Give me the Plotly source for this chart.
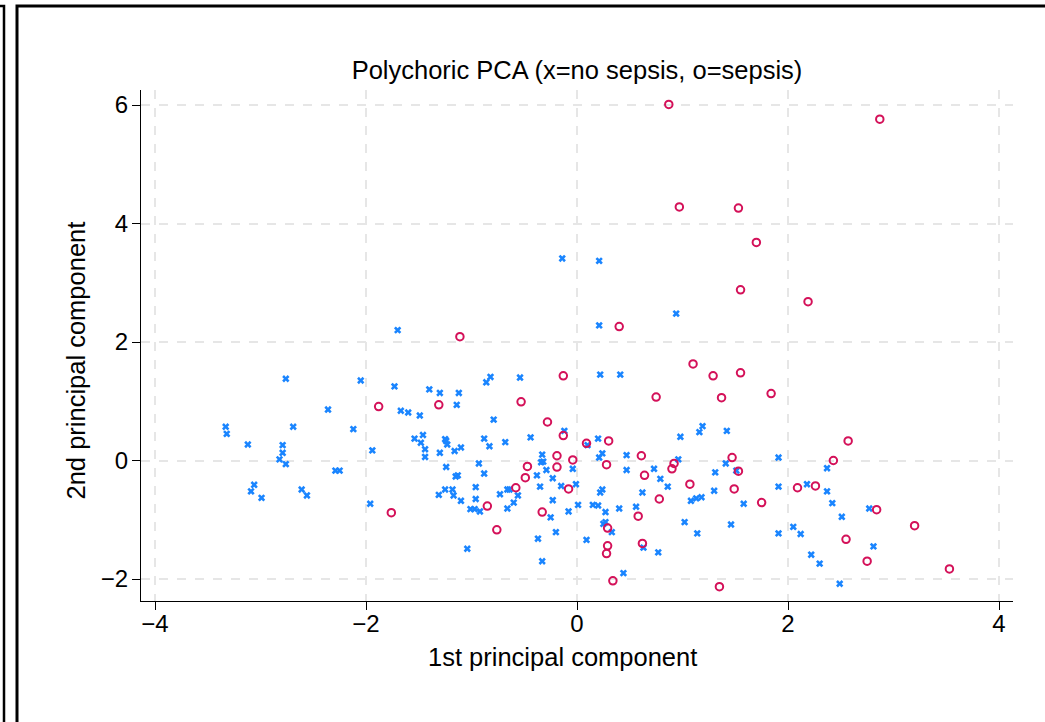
import plotly.graph_objects as go

# Sepsis (o) – 1st and 2nd principal component scores
sepsis_pc1 = [0.87, 2.87, 0.97, 1.53, 1.70, 1.55, 2.19, 0.40, -1.11, 1.10,
              1.29, 1.55, -0.13, 0.75, 1.37, 1.84, -0.53, -1.88, -1.31, -0.28,
              -0.13, 2.57, 0.09, 0.30, 2.43, 0.61, -0.19, -0.04, 0.92, 0.28,
              -0.47, -0.19, 1.47, 0.90, 1.53, 0.64, -0.49, 1.07, 2.09, 2.26,
              -0.58, -0.08, 1.49, 0.78, 1.75, -0.85, 2.84, -0.33, -1.76, 0.58,
              3.20, 0.29, -0.76, 2.55, 0.62, 0.29, 0.28, 2.75, 3.53, 0.34, 1.35]
sepsis_pc2 = [6.01, 5.76, 4.28, 4.26, 3.68, 2.88, 2.68, 2.26, 2.09, 1.63,
              1.43, 1.48, 1.43, 1.07, 1.06, 1.13, 0.99, 0.91, 0.94, 0.65,
              0.42, 0.33, 0.29, 0.33, 0.00, 0.08, 0.08, 0.01, -0.05, -0.07,
              -0.10, -0.11, 0.05, -0.14, -0.18, -0.25, -0.29, -0.40, -0.46, -0.43,
              -0.46, -0.48, -0.48, -0.65, -0.71, -0.77, -0.83, -0.87, -0.88, -0.94,
              -1.10, -1.14, -1.17, -1.33, -1.40, -1.44, -1.57, -1.70, -1.83, -2.03, -2.13]

# No sepsis (x)
nosepsis_pc1 = [-1.70, -2.76, -2.05, -1.73, -1.40, -1.30, -2.36, -1.67, -1.60, -1.49,
                -3.33, -3.32, -2.69, -2.12, -3.12, -2.79, -1.54, -1.46, -1.48, -1.44,
                -1.44, -1.30, -1.94, -2.79, -2.82, -2.76, -2.29, -2.25, -3.06, -3.09,
                -2.99, -2.61, -2.56, -1.96, -1.31, -1.12, -1.14, -0.82, -0.86, -0.54,
                -0.79, -1.25, -1.24, -1.23, -1.10, -1.16, -0.88, -0.83, -0.68, -0.44,
                -0.12, -1.24, -0.93, -0.88, -1.15, -1.13, -0.33, -0.34, -0.32, -0.29,
                -0.23, -0.35, -0.15, -0.04, -0.01, 0.22, 0.41, 0.20, 0.10, 0.24,
                0.21, 0.47, 0.47, -1.25, -1.18, -1.17, -1.10, -0.96, -0.96, -0.73,
                -0.66, -0.64, -0.56, -0.60, -0.23, -0.66, 0.01, 0.15, 0.20, 0.22,
                0.24, 0.40, -0.38, -1.01, -0.97, -0.92, -0.08, -0.25, -0.20, -0.37,
                -0.33, -1.04, 0.27, 0.25, 0.27, 0.33, 0.09, 0.44, 1.19, 1.16,
                1.42, 0.98, 0.96, 1.41, 0.73, 1.31, 0.79, 1.51, 0.86, 0.62,
                1.30, 1.91, 1.91, 1.58, 1.18, 1.13, 1.08, 0.56, 1.02, 1.14,
                1.46, 1.91, 0.63, 0.77, 2.05, 2.12, 2.22, 2.30, 2.37, 2.37,
                2.42, 2.18, 2.49, 2.51, 2.77, 2.81, -0.14, 0.21, 0.94, 0.21]
nosepsis_pc2 = [2.20, 1.38, 1.35, 1.25, 1.20, 1.14, 0.86, 0.84, 0.81, 0.76,
                0.57, 0.45, 0.57, 0.53, 0.27, 0.26, 0.37, 0.43, 0.30, 0.19,
                0.06, 0.13, 0.17, 0.13, 0.02, -0.06, -0.17, -0.17, -0.41, -0.52,
                -0.63, -0.49, -0.59, -0.73, -0.58, 1.14, 0.94, 1.41, 1.32, 1.40,
                0.69, 0.36, 0.33, 0.27, 0.22, 0.16, 0.37, 0.24, 0.31, 0.39,
                0.50, -0.11, -0.05, -0.22, -0.27, -0.25, 0.10, -0.03, -0.02, -0.16,
                -0.30, -0.44, -0.43, -0.14, -0.40, 1.45, 1.45, 0.37, 0.26, 0.12,
                0.05, 0.09, -0.16, -0.49, -0.49, -0.59, -0.68, -0.45, -0.65, -0.57,
                -0.49, -0.49, -0.59, -0.71, -0.67, -0.81, -0.75, -0.75, -0.76, -0.54,
                -0.49, -0.81, -0.25, -0.82, -0.82, -0.86, -0.86, -0.96, -1.21, -1.32,
                -1.70, -1.49, -0.87, -1.07, -1.04, -1.21, -1.34, -1.90, 0.58, 0.48,
                0.50, 0.40, 0.02, -0.05, -0.14, -0.20, -0.31, -0.17, -0.44, -0.54,
                -0.51, 0.05, -0.44, -0.73, -0.62, -0.64, -0.68, -0.78, -1.04, -1.23,
                -1.08, -1.23, -1.47, -1.55, -1.12, -1.24, -1.59, -1.74, -0.13, -0.52,
                -0.72, -0.40, -2.08, -0.95, -0.81, -1.45, 3.41, 3.37, 2.48, 2.28]

x_ticks = [-4, -2, 0, 2, 4]
y_ticks = [-2, 0, 2, 4, 6]

BLUE = "#1a85ff"
RED = "#d41159"
FONT = "Liberation Sans, Arial, sans-serif"

fig = go.Figure()
fig.add_trace(go.Scatter(
    x=nosepsis_pc1, y=nosepsis_pc2, mode="markers", name="no sepsis",
    marker=dict(symbol="x", size=6.5, color=BLUE, line=dict(width=0)),
    cliponaxis=False))
fig.add_trace(go.Scatter(
    x=sepsis_pc1, y=sepsis_pc2, mode="markers", name="sepsis",
    marker=dict(symbol="circle-open", size=7.5, color=RED, line=dict(width=2, color=RED)),
    cliponaxis=False))

W, H = 1045, 722
L, R, T, B = 141, 1013, 90, 601


def px(xp):
    return (xp - L) / (R - L)


def py(yp):
    return (B - yp) / (B - T)


shapes = [
    dict(type="path", xref="paper", yref="paper",
         path=f"M {px(17)} {py(730)} L {px(17)} {py(6)} L {px(1050)} {py(6)}",
         line=dict(color="black", width=3)),
    dict(type="path", xref="paper", yref="paper",
         path=f"M {px(4)} {py(730)} L {px(4)} {py(6)} L {px(-5)} {py(6)}",
         line=dict(color="black", width=2.5)),
]

annotations = [
    dict(text="1st principal component", xref="paper", yref="paper",
         x=px(562.5), y=py(657), xanchor="center", yanchor="middle", showarrow=False,
         font=dict(size=25.5, color="black", family=FONT)),
    dict(text="2nd principal component", xref="paper", yref="paper",
         x=px(75), y=py(360.5), xanchor="center", yanchor="middle", showarrow=False,
         textangle=-90, font=dict(size=25.5, color="black", family=FONT)),
]

axis_common = dict(
    showline=True, linecolor="black", linewidth=1.3,
    ticks="outside", ticklen=8, tickwidth=1.3, tickcolor="black",
    showgrid=True, gridcolor="#e6e6e6", gridwidth=1.5, griddash="dash",
    zeroline=False, tickfont=dict(size=24, color="black", family=FONT),
    mirror=False,
)

fig.update_layout(
    width=W, height=H,
    margin=dict(l=L, r=W - R, t=T, b=H - B, pad=0),
    paper_bgcolor="white", plot_bgcolor="white",
    showlegend=False,
    font=dict(family=FONT, color="black"),
    title=dict(text="Polychoric PCA (x=no sepsis, o=sepsis)",
               x=577 / W, xanchor="center", y=1 - 70 / H, yanchor="middle",
               font=dict(size=25.5, color="black", family=FONT)),
    xaxis=dict(range=[(L - 577) / 105.5, (R - 577) / 105.5], tickvals=x_ticks,
               ticklabelstandoff=-7, **axis_common),
    yaxis=dict(range=[(460.5 - B) / 59.25, (460.5 - T) / 59.25], tickvals=y_ticks,
               ticklabelstandoff=-1, **axis_common),
    shapes=shapes,
    annotations=annotations,
)

fig.write_html("out.html")
